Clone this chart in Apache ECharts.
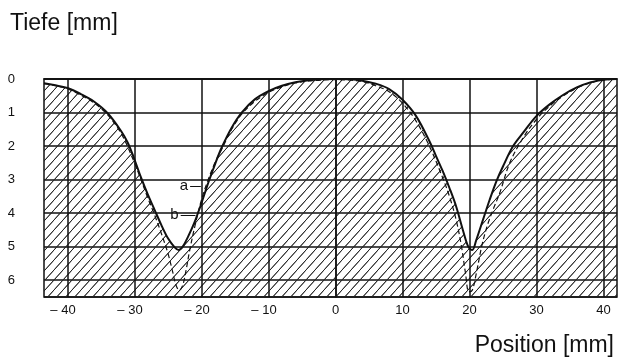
<!DOCTYPE html>
<html>
<head>
<meta charset="utf-8">
<script src="https://cdn.jsdelivr.net/npm/echarts@6/dist/echarts.min.js"></script>
<style>
  html, body { margin: 0; padding: 0; background: #fff; }
  #chart { width: 619px; height: 363px; }
</style>
</head>
<body>
<div id="chart"></div>
<script>
// profile a (solid) and b (dashed): position [mm] -> depth [mm]
const posA = [-43.5,-42,-40,-38,-36,-34,-32,-31,-30,-29,-28,-27,-26,-25,-24,-23.4,-22.8,-22,-21,-20,-19,-18,-17,-15.5,-14,-12,-10,-8,-6,-4,-2,0,2,4,6,8,10,12,14,15,16,17,18,19,19.8,20.4,21,22,23,24,25,26.5,28,30,32,34,36,38,40,42];
const depthA = [0.13,0.18,0.27,0.45,0.68,1.02,1.55,1.9,2.4,2.95,3.45,3.9,4.35,4.75,5.02,5.1,5.0,4.7,4.25,3.7,3.1,2.55,2.05,1.45,1.0,0.6,0.36,0.2,0.1,0.04,0.01,0,0.01,0.05,0.14,0.3,0.62,1.1,1.85,2.3,2.75,3.25,3.8,4.5,5.0,5.1,4.8,4.2,3.6,3.05,2.6,2.0,1.6,1.1,0.75,0.47,0.25,0.1,0.02,0];
const posB = [-43.5,-42,-40,-38,-36,-34,-32,-30,-28,-27,-26,-25,-24.3,-23.8,-23.3,-22.8,-22.3,-21.8,-21,-20,-19,-18,-17,-15.5,-14,-12,-10,-8,-6,-4,-2,0,2,4,6,8,10,12,14,16,17,18,18.8,19.4,19.9,20.4,21,21.8,22.6,23.5,24.5,26,28,30,32,34,36,38,40,42];
const depthB = [0.14,0.19,0.29,0.48,0.72,1.07,1.62,2.5,3.55,4.05,4.6,5.2,5.75,6.15,6.3,6.15,5.7,5.15,4.4,3.6,3.0,2.5,2.1,1.5,1.05,0.66,0.4,0.23,0.12,0.06,0.03,0.02,0.03,0.08,0.2,0.38,0.72,1.25,2.0,2.95,3.5,4.2,5.0,5.8,6.35,6.3,5.8,5.0,4.4,3.9,3.4,2.5,1.75,1.2,0.8,0.5,0.27,0.12,0.03,0.01];

const xTicks = [-40,-30,-20,-10,0,10,20,30,40];
const yMin = 0, yMax = 6.5;
const xMin = -43.5, xMax = 42;

// hatch pattern for the material
function hatch() {
  const w = 9, h = 10;
  const c = document.createElement('canvas');
  c.width = w; c.height = h;
  const ctx = c.getContext('2d');
  ctx.strokeStyle = '#222';
  ctx.lineWidth = 0.9;
  ctx.beginPath();
  ctx.moveTo(0, h); ctx.lineTo(w, 0);
  ctx.moveTo(-w, h); ctx.lineTo(0, 0);
  ctx.moveTo(w, 2 * h); ctx.lineTo(2 * w, h);
  ctx.moveTo(0, 2 * h); ctx.lineTo(2 * w, 0);
  ctx.moveTo(-w, 2 * h); ctx.lineTo(w, 0);
  ctx.stroke();
  return c;
}

const zip = (xs, ys) => xs.map((x, i) => [x, ys[i]]);
const font = '"Liberation Sans", Arial, sans-serif';

const chart = echarts.init(document.getElementById('chart'));
chart.setOption({
  animation: false,
  backgroundColor: '#fff',
  title: [
    { text: 'Tiefe [mm]', left: 5, top: 7,
      textStyle: { fontFamily: font, fontSize: 23, fontWeight: 'normal', color: '#111' } },
    { text: 'Position [mm]', right: 0, bottom: 1,
      textStyle: { fontFamily: font, fontSize: 23, fontWeight: 'normal', color: '#111' } }
  ],
  grid: { left: 44, right: 2, top: 79, bottom: 66, show: true, borderColor: '#111', borderWidth: 1.5 },
  xAxis: {
    type: 'value', min: xMin, max: xMax,
    axisLine: { show: true, lineStyle: { color: '#111', width: 1.5 } },
    axisTick: { show: false },
    splitLine: { show: false },
    axisLabel: {
      customValues: xTicks,
      margin: 7,
      fontFamily: font, fontSize: 13, color: '#111',
      formatter: v => v < 0 ? '\u2013 ' + Math.abs(v) + '{p|}' : String(v),
      rich: { p: { width: 9 } }
    }
  },
  yAxis: {
    type: 'value', inverse: true, min: yMin, max: yMax, interval: 1,
    axisLine: { show: true, lineStyle: { color: '#111', width: 1.5 } },
    axisTick: { show: false },
    splitLine: { show: true, lineStyle: { color: '#111', width: 1.5 } },
    axisLabel: {
      margin: 29, showMaxLabel: false,
      fontFamily: font, fontSize: 13, color: '#111'
    }
  },
  series: [
    {
      name: 'a', type: 'line', data: zip(posA, depthA), smooth: 0.35,
      symbol: 'none', z: 4,
      lineStyle: { color: '#111', width: 2 },
      areaStyle: { origin: 'end', opacity: 1, color: { image: hatch(), repeat: 'repeat' } },
      markLine: {
        silent: true, symbol: 'none', animation: false,
        lineStyle: { color: '#111', width: 1.5, type: 'solid' },
        label: { show: false },
        data: xTicks.map(v => ({ xAxis: v }))
      }
    },
    {
      name: 'b', type: 'line', data: zip(posB, depthB), smooth: 0.35,
      symbol: 'none', z: 5,
      lineStyle: { color: '#111', width: 1.2, type: [5, 3] },
      markLine: {
        silent: true, symbol: 'none', animation: false,
        lineStyle: { color: '#111', width: 1, type: 'solid' },
        label: {
          show: true, position: 'start', distance: 2, formatter: p => p.name,
          fontFamily: font, fontSize: 15, color: '#111'
        },
        data: [
          [{ name: 'a', coord: [-21.7, 3.2] }, { coord: [-20.1, 3.2] }],
          [{ name: 'b', coord: [-23.1, 4.05] }, { coord: [-20.9, 4.05] }]
        ]
      }
    }
  ]
});
</script>
</body>
</html>
